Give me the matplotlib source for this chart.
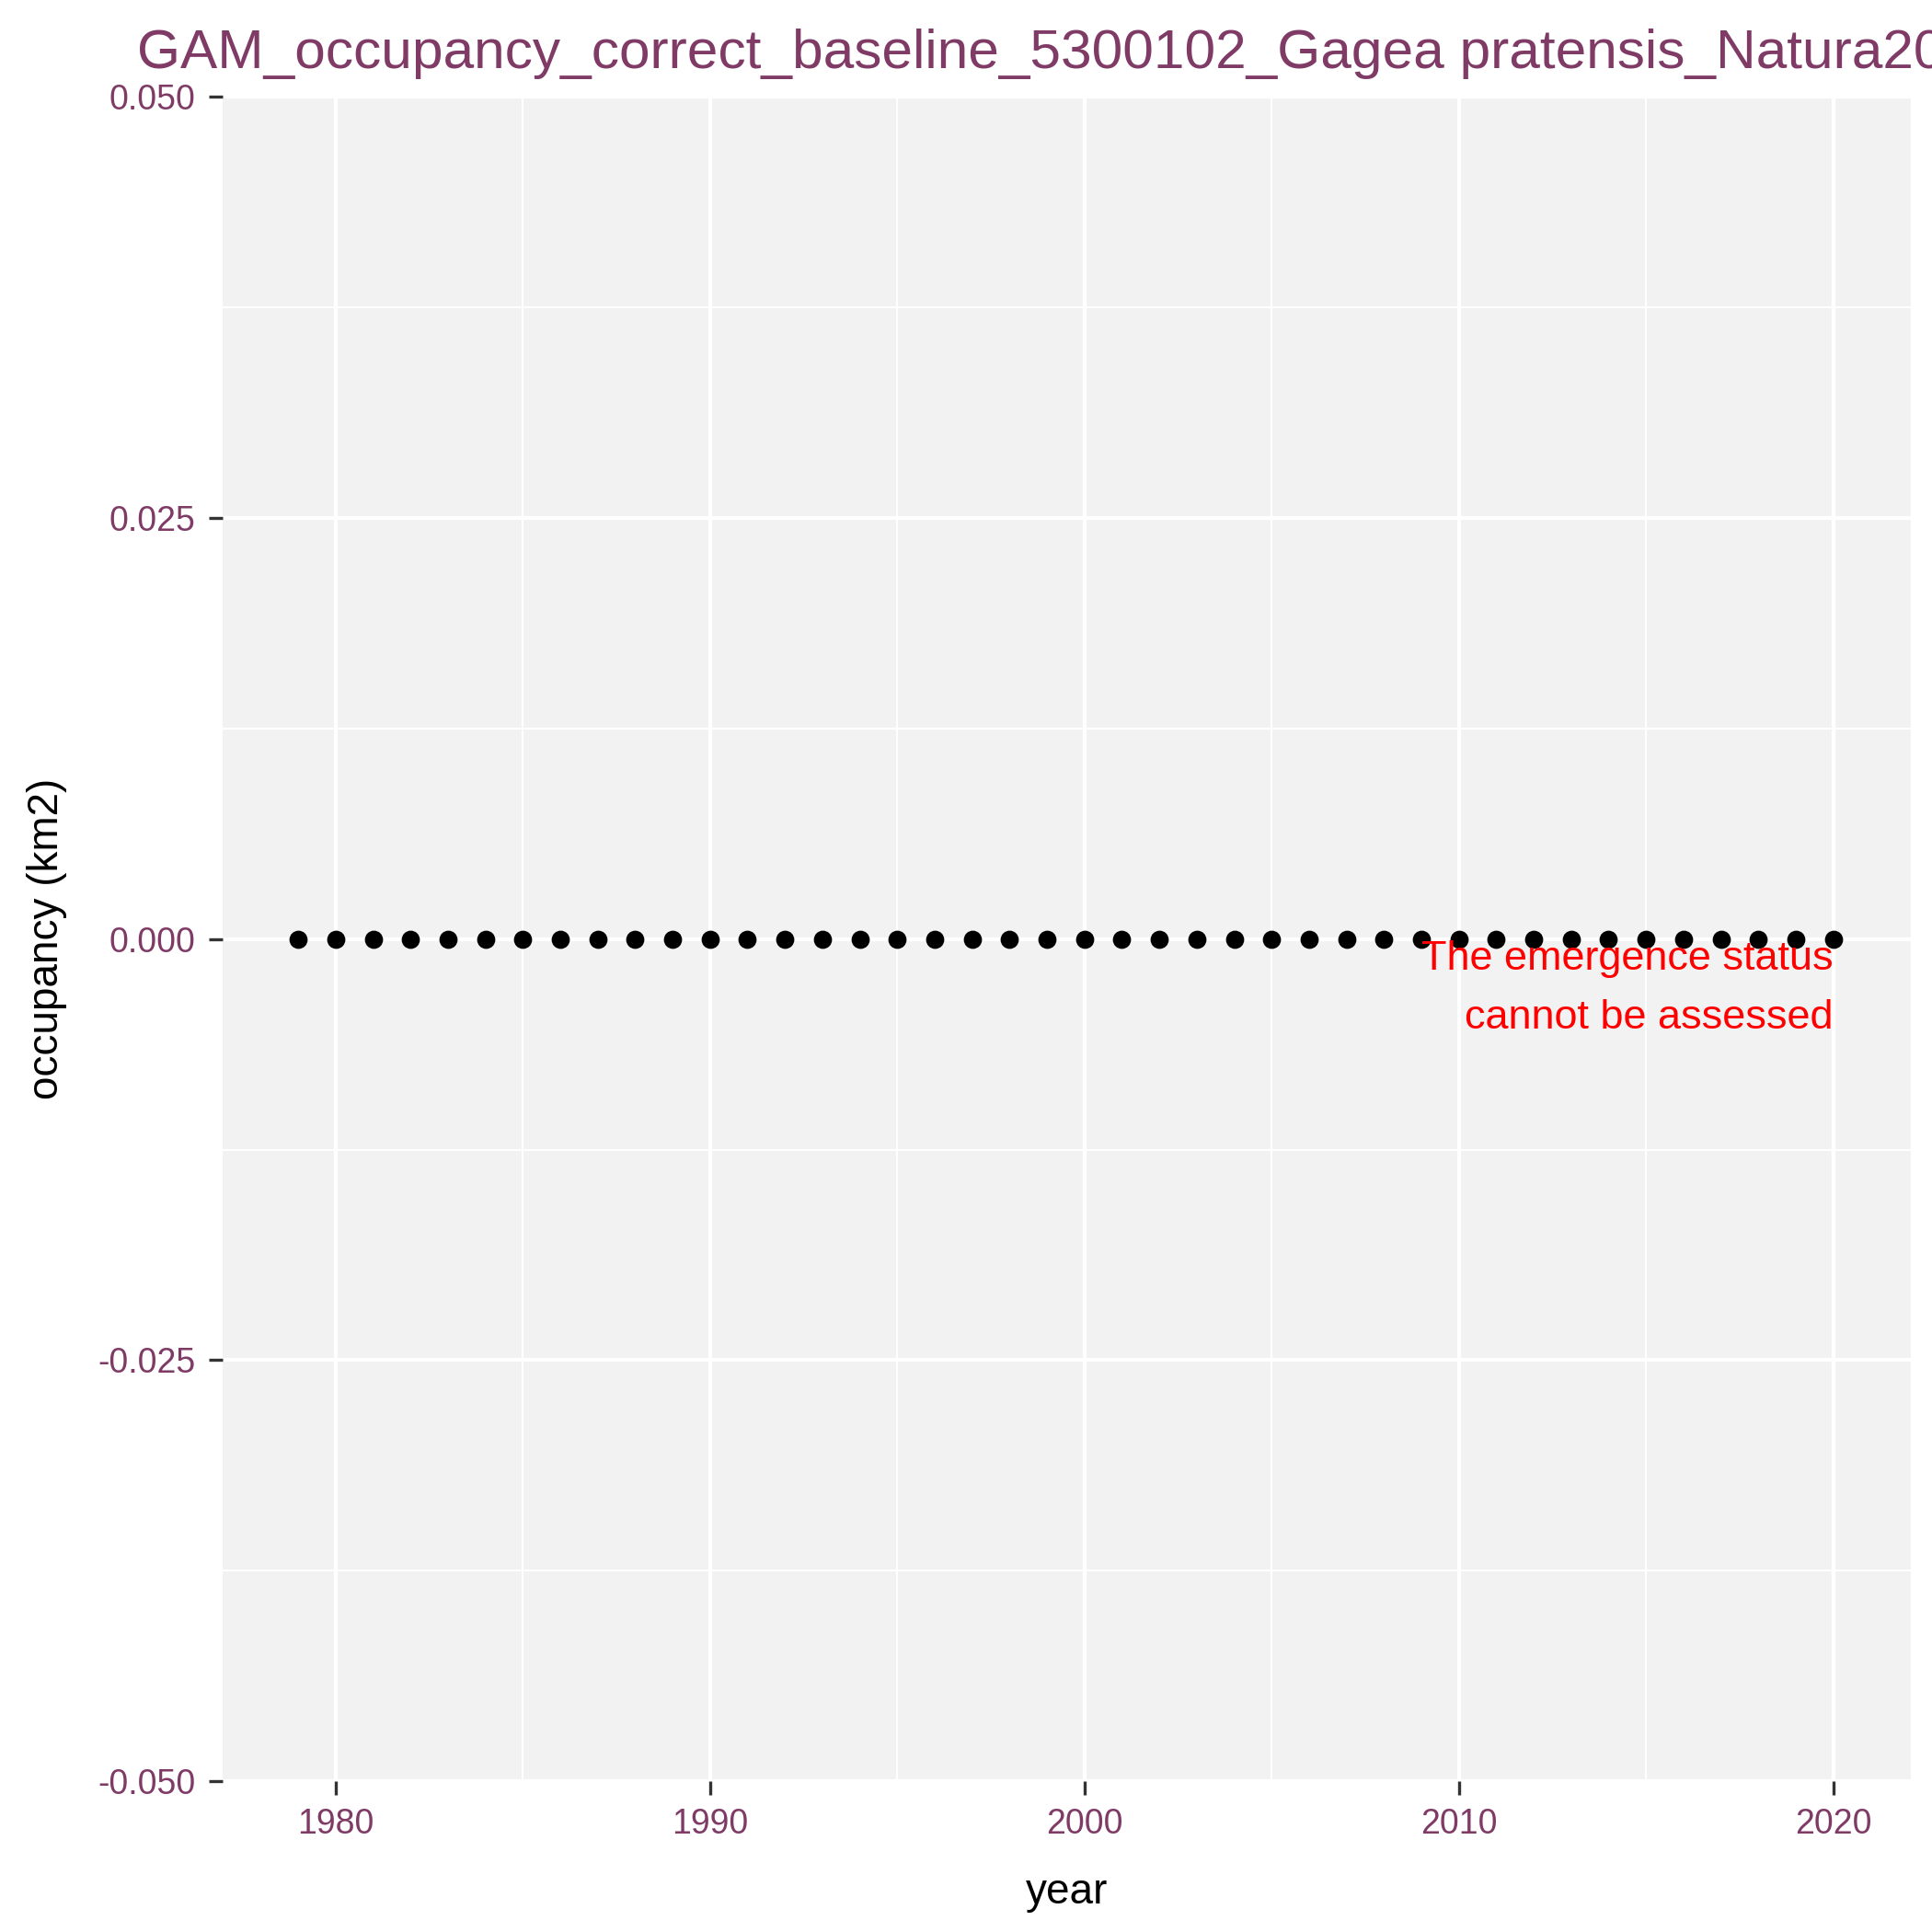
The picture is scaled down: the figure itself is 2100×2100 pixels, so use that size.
import matplotlib.pyplot as plt
import numpy as np

plt.rcParams['font.family'] = ['Liberation Sans', 'DejaVu Sans']

years = np.arange(1979, 2021)
occupancy = np.zeros(len(years))
xticks = [1980, 1990, 2000, 2010, 2020]
yticks = [-0.050, -0.025, 0.000, 0.025, 0.050]
purple = '#7F3B66'

fig = plt.figure(figsize=(7, 7), dpi=300)
ax = fig.add_axes([0.115, 0.078, 0.874, 0.872])
ax.set_facecolor('#F2F2F2')
ax.scatter(years, occupancy, s=14, color='black', zorder=3)

ax.set_xticks(xticks)
ax.set_yticks(yticks)
ax.set_yticklabels([f'{v:.3f}' for v in yticks])
ax.set_xticks([1985, 1995, 2005, 2015], minor=True)
ax.set_yticks([-0.0375, -0.0125, 0.0125, 0.0375], minor=True)
ax.set_xlim(1976.97, 2022.07)
ax.set_ylim(-0.05, 0.05)
ax.grid(True, which='major', color='white', linewidth=1.0)
ax.grid(True, which='minor', color='white', linewidth=0.5)
ax.set_axisbelow(True)
for s in ax.spines.values():
    s.set_visible(False)
ax.tick_params(which='major', colors='#333333', labelcolor=purple, labelsize=9, length=3.5, width=0.8)
ax.tick_params(which='minor', length=0)

ax.set_xlabel('year', fontsize=11, labelpad=8)
ax.set_ylabel('occupancy (km2)', fontsize=11, labelpad=8)

ax.text(2020, -0.0001, 'The emergence status\ncannot be assessed', color='red',
        fontsize=10.8, ha='right', va='top', multialignment='right', linespacing=1.7)

fig.text(0.071, 0.972, 'GAM_occupancy_correct_baseline_5300102_Gagea pratensis_Natura2000',
         color=purple, fontsize=14.5, ha='left', va='center')

fig.savefig('out.png', dpi=300)
